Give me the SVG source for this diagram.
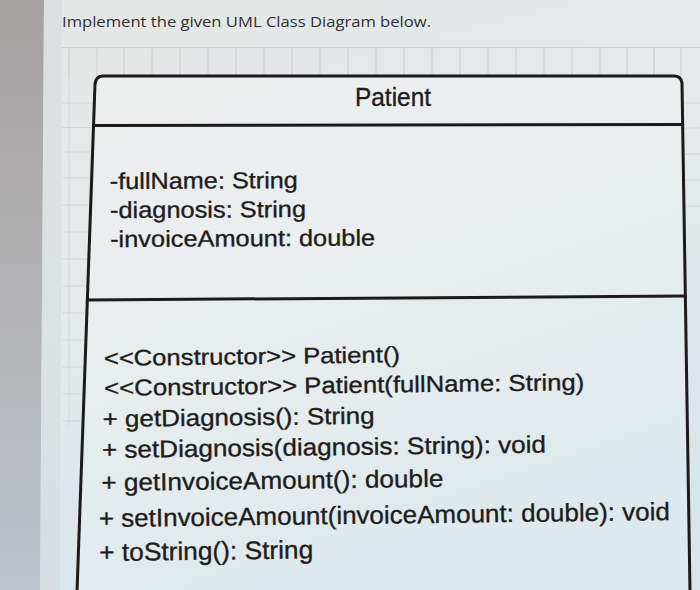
<svg xmlns="http://www.w3.org/2000/svg" width="700" height="590" viewBox="0 0 700 590">
  <style>
    .grid { stroke: #c8cccd; stroke-width: 1; fill: none; }
    .faint { stroke: #d3d7d8; stroke-width: 1; fill: none; }
    .edge { stroke: #1d1a1a; stroke-width: 3; fill: none; stroke-linecap: round; }
    .txt { font-family: "Liberation Sans", Arial, sans-serif; fill: #1f1c1c; stroke: #1f1c1c; stroke-width: 0.35; }
    .head { font-family: "Open Sans", "Noto Sans", sans-serif; font-size: 14px; fill: #303030; }
  </style>
  <defs>
    <linearGradient id="page" x1="0" y1="0" x2="0.3" y2="1">
      <stop offset="0" stop-color="#e4e6e6"/>
      <stop offset="0.5" stop-color="#e6eaea"/>
      <stop offset="1" stop-color="#d7e5ec"/>
    </linearGradient>
    <linearGradient id="strip" x1="0" y1="0" x2="0" y2="1">
      <stop offset="0" stop-color="#a6a1a1"/>
      <stop offset="0.5" stop-color="#b2b2b4"/>
      <stop offset="1" stop-color="#bcc3ca"/>
    </linearGradient>
    <linearGradient id="boxfill" x1="0" y1="0" x2="0.4" y2="1">
      <stop offset="0" stop-color="#eceeee"/>
      <stop offset="0.45" stop-color="#eaeeee"/>
      <stop offset="1" stop-color="#dde9ed"/>
    </linearGradient>
  </defs>

  <!-- photo background -->
  <rect x="0" y="0" width="700" height="590" fill="url(#page)"/>
  <polygon points="0,0 44,0 40,590 0,590" fill="url(#strip)"/>
  <polygon points="44,0 62,0 60,590 40,590" fill="#d6dadc" opacity="0.6"/>

  <!-- background grid -->
  <g id="grid">
    <line class="grid" x1="62" y1="47.5" x2="700" y2="47.5"/>
    <path class="grid" d="M69 47v29 M97 47v29 M124 47v29 M152 47v29 M180 47v29 M208 47v29 M236 47v29 M264 47v29 M292 47v29 M320 47v29 M348 47v29 M376 47v29 M404 47v29 M432 47v29 M460 47v29 M488 47v29 M516 47v29 M544 47v29 M572 47v29 M600 47v29 M627 47v29 M654 47v29 M681 47v29"/>
    <path class="faint" d="M62 103h32 M62 127.5h31 M62 152h30 M62 178h29 M62 205h28 M62 232h27 M62 259h27 M62 286h26 M62 313h25 M62 340h24 M62 367h23 M62 394h22 M62 421h21"/>
    <path class="faint" d="M69 76v350"/>
    <path class="faint" d="M684 103h16 M684 128h16 M684 154h16 M685 180h15 M685 206h15"/>
  </g>

  <!-- Patient class -->
  <g id="patient">
    <path d="M77 592 L95 84 Q96 76 103 76 L674 76 Q681 76 682 83 L690 592 Z" fill="url(#boxfill)"/>
    <path class="edge" d="M77 592 L95 84 Q96 76 103 76 L674 76 Q681 76 682 83 L690 592"/>
    <line class="edge" x1="93.5" y1="125.5" x2="682.7" y2="124.5"/>
    <line class="edge" x1="87.3" y1="300" x2="685.3" y2="296"/>

    <text class="txt" x="355" y="106" font-size="25" textLength="76" lengthAdjust="spacingAndGlyphs" stroke-width="0.6">Patient</text>

    <g id="attributes" transform="rotate(-0.3 110 215)">
      <text class="txt" x="110" y="189" font-size="23" textLength="188" lengthAdjust="spacingAndGlyphs">-fullName: String</text>
      <text class="txt" x="110" y="218" font-size="23" textLength="196" lengthAdjust="spacingAndGlyphs">-diagnosis: String</text>
      <text class="txt" x="110" y="247" font-size="23" textLength="265" lengthAdjust="spacingAndGlyphs">-invoiceAmount: double</text>
    </g>

    <g id="methods" transform="rotate(-0.7 100 450)">
      <text class="txt" x="105" y="366" font-size="22.5" textLength="296" lengthAdjust="spacingAndGlyphs">&lt;&lt;Constructor&gt;&gt; Patient()</text>
      <text class="txt" x="105" y="396" font-size="23" textLength="480" lengthAdjust="spacingAndGlyphs">&lt;&lt;Constructor&gt;&gt; Patient(fullName: String)</text>
      <text class="txt" x="103" y="427" font-size="23.5" textLength="272" lengthAdjust="spacingAndGlyphs">+ getDiagnosis(): String</text>
      <text class="txt" x="102" y="458" font-size="24" textLength="444" lengthAdjust="spacingAndGlyphs">+ setDiagnosis(diagnosis: String): void</text>
      <text class="txt" x="101" y="491" font-size="24.5" textLength="342" lengthAdjust="spacingAndGlyphs">+ getInvoiceAmount(): double</text>
      <text class="txt" x="98" y="527" font-size="25" textLength="571" lengthAdjust="spacingAndGlyphs">+ setInvoiceAmount(invoiceAmount: double): void</text>
      <text class="txt" x="98" y="561" font-size="25.5" textLength="214" lengthAdjust="spacingAndGlyphs">+ toString(): String</text>
    </g>
  </g>

  <!-- connectors (none in this diagram) -->
  <g id="connectors"/>

  <text class="head" x="62" y="27" textLength="369" lengthAdjust="spacingAndGlyphs">Implement the given UML Class Diagram below.</text>
</svg>
